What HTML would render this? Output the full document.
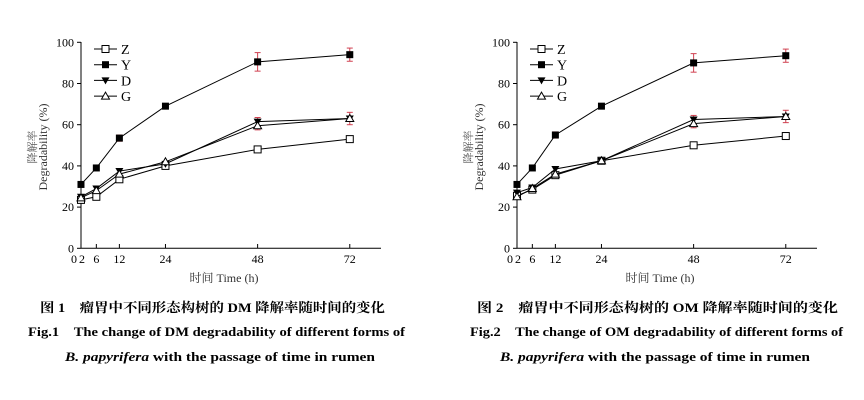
<!DOCTYPE html>
<html><head><meta charset="utf-8"><style>
body{margin:0;background:#fff;width:864px;height:400px;overflow:hidden}
svg{position:absolute;left:0;top:0}
text{font-family:"Liberation Serif","Noto Serif CJK SC",serif}
</style></head><body>
<svg id="s" width="864" height="400" xmlns="http://www.w3.org/2000/svg"></svg>
<script>
const s=document.getElementById('s');let h='';
function X(o,t){return o+73.3+t*3.84}
function Y(v){return 248.3-v*2.06}
const T=[2,6,12,24,48,72];
function chart(o,d,err){
 h+=`<line x1="${o+81}" y1="42" x2="${o+81}" y2="248.3" stroke="#000"/><line x1="${o+81}" y1="248.3" x2="${o+381}" y2="248.3" stroke="#000"/>`;
 for(let v=0;v<=100;v+=20){h+=`<line x1="${o+77}" y1="${Y(v)}" x2="${o+81}" y2="${Y(v)}" stroke="#000"/><text x="${o+74}" y="${Y(v)+4}" font-size="12" text-anchor="end">${v}</text>`;}
 h+=`<text x="${o+74}" y="263" font-size="12" text-anchor="middle">0</text>`;
 T.forEach(t=>{h+=`<line x1="${X(o,t)}" y1="244" x2="${X(o,t)}" y2="248.3" stroke="#000"/><text x="${X(o,t)+(t==2?1:0)}" y="263" font-size="12" text-anchor="middle">${t}</text>`});
 h+=`<text x="${o+224}" y="282" font-size="12" text-anchor="middle" fill="#333">时间  Time (h)</text>`;
 h+=`<text transform="translate(${o+36},147) rotate(-90)" font-size="11" text-anchor="middle" fill="#555">降解率</text>`;
 h+=`<text transform="translate(${o+47},147) rotate(-90)" font-size="12" text-anchor="middle" fill="#333">Degradability (%)</text>`;
 err.forEach(e=>{const x=X(o,e[0]);h+=`<g stroke="#d04050"><line x1="${x}" y1="${Y(e[1]+e[2])}" x2="${x}" y2="${Y(e[1]-e[2])}"/><line x1="${x-3}" y1="${Y(e[1]+e[2])}" x2="${x+3}" y2="${Y(e[1]+e[2])}"/><line x1="${x-3}" y1="${Y(e[1]-e[2])}" x2="${x+3}" y2="${Y(e[1]-e[2])}"/></g>`});
 const names=['Z','Y','D','G'];
 d.forEach((arr,i)=>{
  h+=`<polyline fill="none" stroke="#000" points="${arr.map((v,j)=>X(o,T[j])+','+Y(v)).join(' ')}"/>`;
  arr.forEach((v,j)=>h+=mk(i,X(o,T[j]),Y(v)));
  const ly=49+i*15.7;
  h+=`<line x1="${o+94}" y1="${ly}" x2="${o+117}" y2="${ly}" stroke="#000"/>`+mk(i,o+105.5,ly)+`<text x="${o+121}" y="${ly+5}" font-size="14">${names[i]}</text>`;
 });
}
function mk(i,x,y){
 if(i==0)return `<rect x="${x-3.5}" y="${y-3.5}" width="7" height="7" fill="#fff" stroke="#000"/>`;
 if(i==1)return `<rect x="${x-3.5}" y="${y-3.5}" width="7" height="7" fill="#000"/>`;
 if(i==2)return `<polygon points="${x-4},${y-3} ${x+4},${y-3} ${x},${y+4}" fill="#000"/>`;
 return `<polygon points="${x-4},${y+3} ${x+4},${y+3} ${x},${y-4}" fill="#fff" stroke="#000"/>`;
}
chart(0,[[23.5,25,33.5,40,48,53],[31,39,53.5,69,90.5,94],[25,29,37.5,41,61.5,63],[24.5,28,36,42,59.5,63]],
 [[12,53.5,1.5],[48,90.5,4.5],[72,94,3.2],[48,60.5,3],[72,63,3]]);
chart(436,[[25.5,28.5,35.5,42.5,50,54.5],[31,39,55,69,90,93.5],[27,29.5,38.5,42.5,62.5,64],[25,29,36,42.5,60.5,64]],
 [[12,55,1.5],[48,90,4.5],[72,93.5,3.2],[48,61.5,3],[72,64,3]]);
const c=[[40,345,28,377,65,310,'图 1　瘤胃中不同形态构树的 DM 降解率随时间的变化','Fig.1　The change of DM degradability of different forms of'],
[477,361,470,373,500,310,'图 2　瘤胃中不同形态构树的 OM 降解率随时间的变化','Fig.2　The change of OM degradability of different forms of']];
c.forEach(a=>{h+=`<text x="${a[0]}" y="312" font-size="13" font-weight="bold" textLength="${a[1]}" lengthAdjust="spacingAndGlyphs">${a[6]}</text><text x="${a[2]}" y="336" font-size="13" font-weight="bold" textLength="${a[3]}" lengthAdjust="spacingAndGlyphs">${a[7]}</text><text x="${a[4]}" y="361" font-size="13" font-weight="bold" textLength="${a[5]}" lengthAdjust="spacingAndGlyphs"><tspan font-style="italic">B. papyrifera</tspan> with the passage of time in rumen</text>`});
s.innerHTML=h;
</script>
</body></html>
